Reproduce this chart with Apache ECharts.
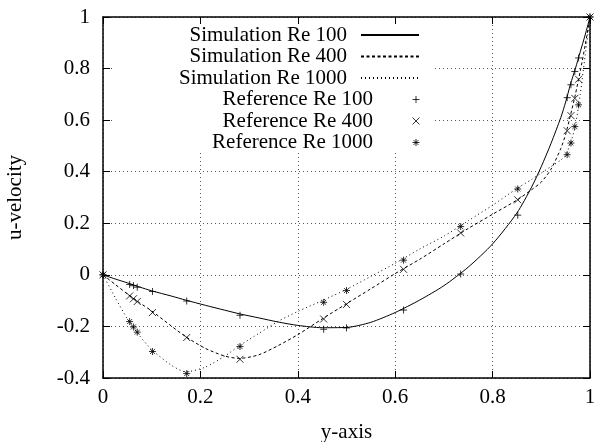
<!DOCTYPE html>
<html><head><meta charset="utf-8">
<script src="https://cdn.jsdelivr.net/npm/echarts@6/dist/echarts.min.js"></script>
<style>html,body{margin:0;padding:0;background:#fff}#c{width:595px;height:442px}</style>
</head><body><div id="c"></div>
<script>
// Reference data (Ghia et al.)
const refY = [0, 0.0547, 0.0625, 0.0703, 0.1016, 0.1719, 0.2813, 0.4531, 0.5, 0.6172, 0.7344, 0.8516, 0.9531, 0.9609, 0.9688, 0.9766, 1.0];
const refU100 = [0, -0.03717, -0.04192, -0.04775, -0.06434, -0.10150, -0.15662, -0.21090, -0.20581, -0.13641, 0.00332, 0.23151, 0.68717, 0.73722, 0.78871, 0.84123, 1.0];
const refU400 = [0, -0.08186, -0.09266, -0.10338, -0.14612, -0.24299, -0.32726, -0.17119, -0.11477, 0.02135, 0.16256, 0.29093, 0.55892, 0.61756, 0.68439, 0.75837, 1.0];
const refU1000 = [0, -0.18109, -0.20196, -0.22220, -0.29730, -0.38289, -0.27805, -0.10648, -0.06080, 0.05702, 0.18719, 0.33304, 0.46604, 0.51117, 0.57492, 0.65928, 1.0];

// Simulation curves
const simY = [0, 0.025, 0.05, 0.075, 0.1, 0.14, 0.17, 0.21, 0.25, 0.28, 0.32, 0.36, 0.4, 0.45, 0.5, 0.55, 0.6, 0.65, 0.7, 0.75, 0.8, 0.85, 0.88, 0.9, 0.92, 0.94, 0.95, 0.96, 0.97, 0.98, 0.99, 1];
const simU100 = [0, -0.016, -0.031, -0.047, -0.062, -0.082, -0.098, -0.118, -0.137, -0.151, -0.167, -0.183, -0.196, -0.205, -0.204, -0.184, -0.146, -0.098, -0.042, 0.03, 0.12, 0.24, 0.34, 0.42, 0.51, 0.61, 0.67, 0.74, 0.80, 0.865, 0.93, 1];
const simU400 = [0, -0.037, -0.074, -0.108, -0.14, -0.198, -0.24, -0.285, -0.315, -0.324, -0.31, -0.274, -0.232, -0.171, -0.112, -0.054, 0.005, 0.06, 0.12, 0.18, 0.235, 0.29, 0.33, 0.36, 0.41, 0.49, 0.545, 0.62, 0.70, 0.79, 0.89, 1];
const simU1000 = [0, -0.088, -0.17, -0.236, -0.29, -0.35, -0.376, -0.358, -0.315, -0.275, -0.227, -0.18, -0.142, -0.1, -0.056, -0.006, 0.045, 0.1, 0.15, 0.21, 0.27, 0.335, 0.37, 0.395, 0.42, 0.445, 0.465, 0.51, 0.58, 0.70, 0.85, 1];

const seriesNames = ['Simulation Re 100', 'Simulation Re 400', 'Simulation Re 1000', 'Reference Re 100', 'Reference Re 400', 'Reference Re 1000'];
const xTickLabels = ['0', '0.2', '0.4', '0.6', '0.8', '1'];
const yTickLabels = ['-0.4', '-0.2', '0', '0.2', '0.4', '0.6', '0.8', '1'];
const xLabel = 'y-axis';
const yLabel = 'u-velocity';

function pairs(xs, ys) { return xs.map((x, i) => [x, ys[i]]); }

const FONT = '"Liberation Serif", "Times New Roman", serif';
const FS = 21;
const symPlus = 'path://M0,5L10,5M5,0L5,10';
const symCross = 'path://M0,0L10,10M10,0L0,10';
const symStar = 'path://M0,5L10,5M5,0L5,10M1.5,1.5L8.5,8.5M8.5,1.5L1.5,8.5';

const lineTypes = ['solid', [3, 2.5], [1, 3]];
const simData = [simU100, simU400, simU1000];
const refData = [refU100, refU400, refU1000];
const refSyms = [symPlus, symCross, symStar];

const series = [];
for (let i = 0; i < 3; i++) {
  series.push({
    name: seriesNames[i], type: 'line', data: pairs(simY, simData[i]),
    symbol: 'none', smooth: 0.25, z: 3,
    lineStyle: { color: '#000', width: 1, type: lineTypes[i] },
    itemStyle: { color: '#000' }
  });
}
for (let i = 0; i < 3; i++) {
  series.push({
    name: seriesNames[3 + i], type: 'scatter', data: pairs(refY, refData[i]),
    symbol: refSyms[i], symbolSize: 7, z: 4,
    itemStyle: { color: '#000', borderColor: '#000', borderWidth: 1 }
  });
}

const txt = { fontFamily: FONT, fontSize: FS, color: '#000', fontStyle: 'normal', fontWeight: 'normal' };

const rowY = [35, 56.5, 78, 99.5, 121, 142.5];
const legends = seriesNames.map((n, i) => ({
  data: [n], right: 175, top: rowY[i] - 10.5, align: 'right', orient: 'vertical',
  padding: 0, selectedMode: false,
  itemWidth: 58, itemHeight: i < 3 ? 14 : 7,
  itemStyle: i < 3 ? { opacity: 0 } : { borderColor: '#000', borderWidth: 1, color: '#000' },
  textStyle: Object.assign({ padding: [0, 9, 0, 0] }, txt)
}));

const axisCommon = {
  axisLine: { onZero: false, lineStyle: { color: '#000', width: 1.5 } },
  axisTick: { inside: true, length: 7, lineStyle: { color: '#000', width: 1 } }
};
const gridLine = { show: true, lineStyle: { color: '#555', width: 1, type: [1, 3] } };

const option = {
  animation: false,
  backgroundColor: '#fff',
  textStyle: txt,
  grid: { left: 103, right: 5, top: 17, bottom: 64, containLabel: false, outerBoundsMode: 'none' },
  legend: legends,
  graphic: [{ type: 'rect', shape: { x: 114, y: 25, width: 318, height: 127 }, style: { fill: '#fff' }, z: 1, silent: true }],
  xAxis: [
    Object.assign({
      type: 'value', min: 0, max: 1, interval: 0.2, position: 'bottom',
      name: xLabel, nameLocation: 'middle', nameGap: 44,
      nameTextStyle: txt,
      axisLabel: Object.assign({ margin: 9, formatter: v => xTickLabels[Math.round(v / 0.2)] }, txt),
      splitLine: gridLine
    }, axisCommon),
    Object.assign({
      type: 'value', min: 0, max: 1, interval: 0.2, position: 'top',
      axisLabel: { show: false }, splitLine: { show: false }
    }, axisCommon)
  ],
  yAxis: [
    Object.assign({
      type: 'value', min: -0.4, max: 1, interval: 0.2, position: 'left',
      name: yLabel, nameLocation: 'middle', nameGap: 77, nameRotate: 90,
      nameTextStyle: txt,
      axisLabel: Object.assign({ margin: 13, formatter: v => yTickLabels[Math.round((v + 0.4) / 0.2)] }, txt),
      splitLine: gridLine
    }, axisCommon),
    Object.assign({
      type: 'value', min: -0.4, max: 1, interval: 0.2, position: 'right',
      axisLabel: { show: false }, splitLine: { show: false }
    }, axisCommon)
  ],
  series: series
};
const chart = echarts.init(document.getElementById('c'), null, { renderer: 'canvas' });
chart.setOption(option);
</script>
</body></html>
